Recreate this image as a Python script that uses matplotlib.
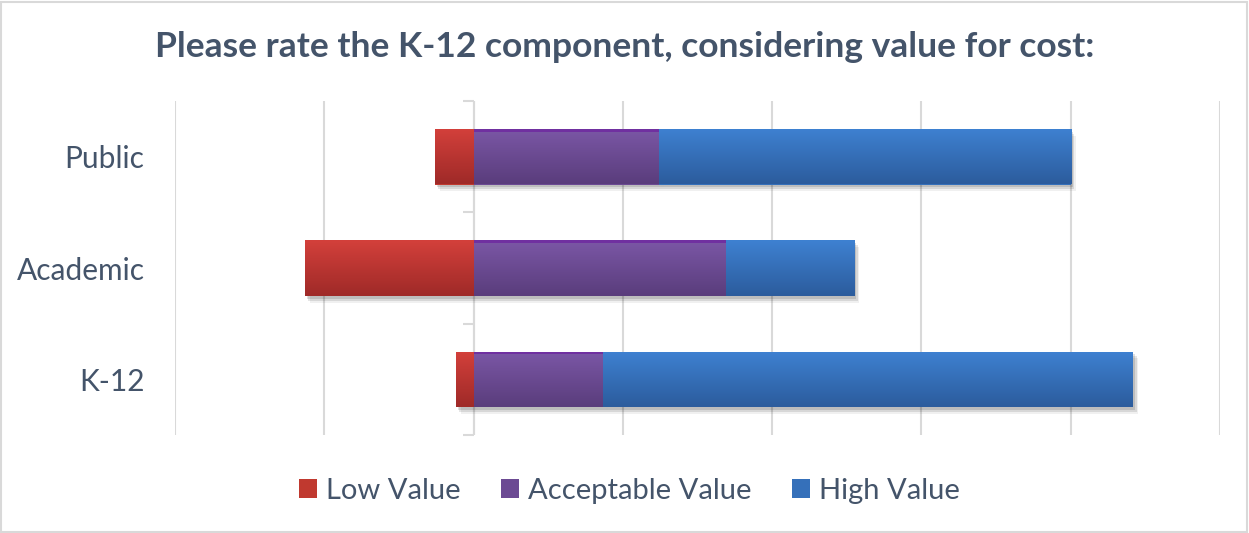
import numpy as np
import matplotlib
matplotlib.use("Agg")
import matplotlib.pyplot as plt
from matplotlib.colors import LinearSegmentedColormap
from matplotlib.patches import Rectangle, Patch
import matplotlib.patheffects as pe

# ---- data (one gridline = 10 units) ----
categories = ["Public", "Academic", "K-12"]
low_value = [2.6, 11.3, 1.2]          # drawn to the left of zero
acceptable_value = [12.4, 16.9, 8.7]
high_value = [27.6, 8.6, 35.5]
series_names = ["Low Value", "Acceptable Value", "High Value"]

TEXT = "#44546A"
GRID = "#D9D9D9"
# (top colour, bottom colour) for the vertical gradient on each series
GRAD = {"Low Value": ("#D3403B", "#9F2A28"),
        "Acceptable Value": ("#7B57A6", "#5A3D7C"),
        "High Value": ("#3E81D1", "#2C5C9D")}
FLAT = {"Low Value": "#C0392F", "Acceptable Value": "#6C4A93", "High Value": "#3570BA"}

plt.rcParams["font.family"] = ["Lato", "DejaVu Sans"]

fig = plt.figure(figsize=(12.49, 5.33), dpi=100)
W, H = 1249, 533
ax = fig.add_axes([175 / W, 1 - 435 / H, (1220 - 175) / W, (435 - 101) / H])

y = np.arange(len(categories))
low = -np.array(low_value)
acc = np.array(acceptable_value)
high = np.array(high_value)
bh = 0.5

# soft drop shadow: a few offset layers
shadow = [pe.SimplePatchShadow(offset=(1.5, -2), shadow_rgbFace="black", alpha=0.12),
          pe.SimplePatchShadow(offset=(2.5, -3.5), shadow_rgbFace="black", alpha=0.10),
          pe.SimplePatchShadow(offset=(3.5, -5), shadow_rgbFace="black", alpha=0.06),
          pe.Normal()]
segs = [("Low Value", low, np.zeros_like(low)),
        ("Acceptable Value", acc, np.zeros_like(acc)),
        ("High Value", high, acc)]
for name, w, left in segs:
    bars = ax.barh(y, w, left=left, height=bh, color=FLAT[name], zorder=3,
                   path_effects=shadow)
    cmap = LinearSegmentedColormap.from_list(name, GRAD[name])
    grad = np.linspace(0, 1, 64).reshape(-1, 1)
    for b in bars:
        x0, yb = b.get_x(), b.get_y()
        x1 = x0 + b.get_width()
        im = ax.imshow(grad, cmap=cmap, aspect="auto", origin="upper",
                       extent=(min(x0, x1), max(x0, x1), yb + bh, yb),
                       zorder=4, interpolation="bicubic")
        im.set_clip_path(b)
    if name == "Acceptable Value":
        # thin bright stripe along the top of the purple bars
        ax.barh(y - bh / 2 + 0.012, w, left=left, height=0.024, color="#7030A0", zorder=5)

ax.set_xlim(-20, 50)
ax.set_ylim(len(categories) - 0.5, -0.5)
ax.set_xticks(np.arange(-20, 51, 10))
ax.xaxis.grid(True, color=GRID, lw=1.5, zorder=0)
ax.tick_params(axis="x", length=0, labelbottom=False)
ax.set_yticks(y)
ax.set_yticklabels(categories, fontsize=21.5, color=TEXT)
ax.tick_params(axis="y", length=0, pad=22)
for s in ax.spines.values():
    s.set_visible(False)

# category axis sits at zero, with small outward ticks at the category boundaries
ax.axvline(0, color=GRID, lw=1.5, zorder=2)
bounds = np.arange(len(categories) + 1) - 0.5
ax.hlines(bounds, -0.7, 0, color=GRID, lw=1.5, zorder=2, clip_on=False)

fig.suptitle("Please rate the K-12 component, considering value for cost:",
             x=0.5, y=1 - 47 / H, va="center", fontsize=25.5, fontweight="bold", color=TEXT)

handles = [Patch(facecolor=FLAT[n], edgecolor="none") for n in series_names]
fig.legend(handles, series_names, loc="center", bbox_to_anchor=(0.504, 1 - 491 / H),
           ncol=3, frameon=False, fontsize=21, labelcolor=TEXT,
           handlelength=0.62, handleheight=0.62, handletextpad=0.3, columnspacing=1.4)

fig.patches.append(Rectangle((0.001, 0.002), 0.997, 0.994, transform=fig.transFigure,
                             fill=False, ec=GRID, lw=1.5))

fig.savefig("out.png", dpi=100)
